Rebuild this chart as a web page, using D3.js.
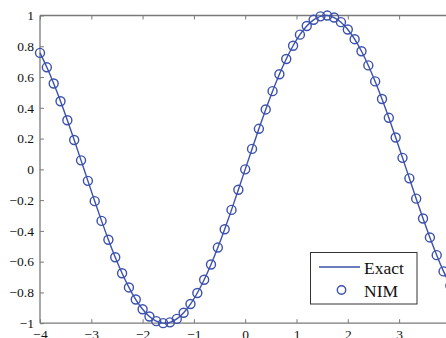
<!DOCTYPE html>
<html><head><meta charset="utf-8">
<script src="https://cdn.jsdelivr.net/npm/d3@7"></script>
<style>body{margin:0;background:#fff}svg{display:block}
svg text{font-family:"Liberation Serif","Times New Roman",serif !important}</style>
</head><body>
<script>
// Sample abscissae (NIM nodes) and values
const xs = [-4.0000,-3.8667,-3.7333,-3.6000,-3.4667,-3.3333,-3.2000,-3.0667,-2.9333,-2.8000,
  -2.6667,-2.5333,-2.4000,-2.2667,-2.1333,-2.0000,-1.8667,-1.7333,-1.6000,-1.4667,
  -1.3333,-1.2000,-1.0667,-0.9333,-0.8000,-0.6667,-0.5333,-0.4000,-0.2667,-0.1333,
  0.0000,0.1333,0.2667,0.4000,0.5333,0.6667,0.8000,0.9333,1.0667,1.2000,
  1.3333,1.4667,1.6000,1.7333,1.8667,2.0000,2.1333,2.2667,2.4000,2.5333,
  2.6667,2.8000,2.9333,3.0667,3.2000,3.3333,3.4667,3.6000,3.7333,3.8667,4.0000];
const nimValues = [0.7568,0.6632,0.5577,0.4425,0.3194,0.1906,0.0584,-0.0748,-0.2068,-0.3350,
  -0.4573,-0.5715,-0.6755,-0.7675,-0.8460,-0.9093,-0.9567,-0.9867,-0.9996,-0.9945,
  -0.9719,-0.9320,-0.8754,-0.8035,-0.7174,-0.6184,-0.5084,-0.3894,-0.2635,-0.1329,
  0.0000,0.1329,0.2635,0.3894,0.5084,0.6184,0.7174,0.8035,0.8754,0.9320,
  0.9719,0.9945,0.9996,0.9867,0.9567,0.9093,0.8460,0.7675,0.6755,0.5715,
  0.4573,0.3350,0.2068,0.0748,-0.0584,-0.1906,-0.3194,-0.4425,-0.5577,-0.6632,-0.7568];
const exactValues = nimValues.slice();
const xTicks = [-4,-3,-2,-1,0,1,2,3,4];
const yTicks = [-1,-0.8,-0.6,-0.4,-0.2,0,0.2,0.4,0.6,0.8,1];
const seriesNames = ["Exact","NIM"];

const W = 446, H = 338;
const blue = "#3b51ad";
const axisCol = "#7a7a7a";
const x = d3.scaleLinear().domain([-4,4]).range([40, 450.4]);
const y = d3.scaleLinear().domain([-1,1]).range([323.2, 15.5]);

const svg = d3.select("body").append("svg").attr("width",W).attr("height",H);

svg.append("defs").append("clipPath").attr("id","clip")
  .append("rect").attr("x",x(-4)-6).attr("y",y(1)-6).attr("width",x(4)-x(-4)+12).attr("height",y(-1)-y(1)+12);

const font = "Liberation Serif";

// axes
const fmt = d => d3.format("")(d).replace("-","\u2212");
const gx = svg.append("g").attr("transform",`translate(0,${y(-1)})`)
  .call(d3.axisBottom(x).tickValues(xTicks).tickSize(-4).tickPadding(6).tickFormat(fmt));
const gxTop = svg.append("g").attr("transform",`translate(0,${y(1)})`)
  .call(d3.axisTop(x).tickValues(xTicks).tickSize(-4).tickFormat(""));
const gy = svg.append("g").attr("transform",`translate(${x(-4)},0)`)
  .call(d3.axisLeft(y).tickValues(yTicks).tickSize(-4).tickPadding(6).tickFormat(fmt));
[gx,gxTop,gy].forEach(g => {
  g.attr("font-family",font);
  g.select(".domain").attr("stroke",axisCol).attr("stroke-width",1.3);
  g.selectAll(".tick line").attr("stroke",axisCol).attr("stroke-width",1);
  g.selectAll("text").attr("font-size",13.5).attr("fill","#111");
});
gx.select(".domain").attr("d",`M${x(-4)},0H${x(4)}`);
gxTop.select(".domain").attr("d",`M${x(-4)},0H${x(4)}`);
gy.select(".domain").attr("d",`M0,${y(-1)}V${y(1)}`);

const data = xs.map((v,i)=>({x:v, e:exactValues[i], n:nimValues[i]}));
const plot = svg.append("g").attr("clip-path","url(#clip)");
plot.append("path").datum(data)
  .attr("fill","none").attr("stroke",blue).attr("stroke-width",1.4)
  .attr("d", d3.line().x(d=>x(d.x)).y(d=>y(d.e)).curve(d3.curveNatural));
plot.selectAll("circle").data(data).join("circle")
  .attr("cx",d=>x(d.x)).attr("cy",d=>y(d.n)).attr("r",4.5)
  .attr("fill","none").attr("stroke",blue).attr("stroke-width",1.4);

// legend
const lg = svg.append("g");
lg.append("rect").attr("x",310.5).attr("y",252.5).attr("width",106.5).attr("height",51.5)
  .attr("fill","#fff").attr("stroke","#333").attr("stroke-width",1);
lg.append("line").attr("x1",319).attr("x2",360).attr("y1",267).attr("y2",267)
  .attr("stroke",blue).attr("stroke-width",1.4);
lg.append("circle").attr("cx",341.5).attr("cy",290).attr("r",4.2)
  .attr("fill","none").attr("stroke",blue).attr("stroke-width",1.4);
lg.selectAll("text").data(seriesNames).join("text")
  .attr("x",364).attr("y",(d,i)=>273.5+i*23.5)
  .attr("font-family",font).attr("font-size",17.5).attr("fill","#111")
  .text(d=>d);
</script>
</body></html>
